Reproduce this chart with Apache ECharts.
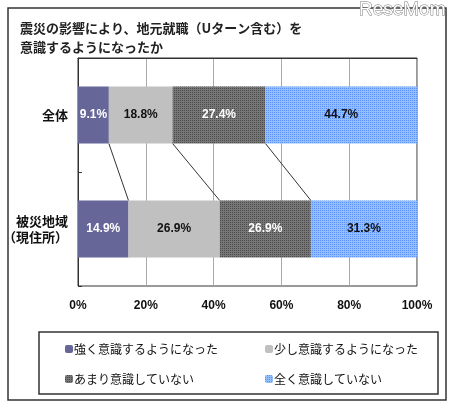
<!DOCTYPE html>
<html lang="ja">
<head>
    <meta charset="UTF-8">
    <title>地元就職の意識</title>
    <script src="https://cdn.jsdelivr.net/npm/echarts@6/dist/echarts.min.js"></script>
    <style>
        html, body { margin: 0; padding: 0; background: #fff; }
        #chart1 { width: 450px; height: 409px; }
    </style>
</head>
<body>
<div id="chart1"></div>
<script type="text/javascript">
    // データ
    var categories = ['全体', '被災地域\n（現住所）'];
    var seriesNames = ['強く意識するようになった', '少し意識するようになった', 'あまり意識していない', '全く意識していない'];
    var strong = [9.1, 14.9];
    var little = [18.8, 26.9];
    var notMuch = [27.4, 26.9];
    var notAtAll = [44.7, 31.3];
    var xTicks = [0, 20, 40, 60, 80, 100];

    var font = '"Noto Sans CJK JP", "Liberation Sans", sans-serif';
    var numFont = '"Liberation Sans", Arial, sans-serif';
    var values = [strong, little, notMuch, notAtAll];
    var colors = ['#666699', '#c0c0c0', '#777777', '#92bffa'];
    var labelColors = ['#fff', '#111', '#fff', '#111'];
    var decals = [null, null,
        { symbol: 'rect', symbolSize: 1, dashArrayX: [1, 1], dashArrayY: [1, 1], color: 'rgba(30,30,30,0.5)' },
        { symbol: 'rect', symbolSize: 1, dashArrayX: [1, 1], dashArrayY: [1, 1], color: 'rgba(40,100,255,0.5)' }];

    var series = [];
    for (var i = 0; i < values.length; i++) {
        series.push({
            name: seriesNames[i],
            type: 'bar',
            stack: 'total',
            barWidth: '50%',
            data: values[i],
            itemStyle: { color: colors[i], decal: decals[i] },
            label: {
                show: true,
                position: 'inside',
                formatter: '{c}%',
                color: labelColors[i],
                fontFamily: numFont,
                fontWeight: 'bold',
                fontSize: 12
            }
        });
    }

    // 区切り線（累積値から）
    var cum = [0, 0];
    for (var k = 0; k < values.length - 1; k++) {
        cum[0] += values[k][0];
        cum[1] += values[k][1];
        series.push({
            type: 'line',
            yAxisIndex: 1,
            symbol: 'none',
            silent: true,
            lineStyle: { color: '#333', width: 1 },
            data: [[cum[0], 0.75], [cum[1], 1.25]],
            z: 1
        });
    }

    var myChart1 = echarts.init(document.getElementById('chart1'));
    myChart1.setOption({
        animation: false,
        textStyle: { fontFamily: font },
        title: {
            text: '震災の影響により、地元就職（Uターン含む）を\n意識するようになったか',
            left: 15,
            top: 14,
            textStyle: { fontSize: 13, fontWeight: 'bold', color: '#222', lineHeight: 19, fontFamily: font }
        },
        legend: [{
            data: [seriesNames[0], seriesNames[2]],
            orient: 'vertical',
            left: 60,
            top: 338,
            itemWidth: 8,
            itemHeight: 8,
            itemGap: 18,
            textStyle: { fontSize: 12, color: '#111', padding: [0, 0, 0, -4] }
        }, {
            data: [seriesNames[1], seriesNames[3]],
            orient: 'vertical',
            left: 260,
            top: 338,
            itemWidth: 8,
            itemHeight: 8,
            itemGap: 18,
            textStyle: { fontSize: 12, color: '#111', padding: [0, 0, 0, -4] }
        }],
        grid: {
            left: 78,
            right: 33,
            top: 58,
            bottom: 123,
            show: true,
            borderColor: '#333',
            borderWidth: 1
        },
        xAxis: {
            type: 'value',
            min: xTicks[0],
            max: xTicks[xTicks.length - 1],
            interval: 20,
            axisLine: { show: true, lineStyle: { color: '#333' } },
            axisTick: { show: false },
            splitLine: { show: true, lineStyle: { color: '#aaa' } },
            axisLabel: {
                margin: 14,
                fontSize: 12,
                color: '#111',
                fontFamily: numFont,
                fontWeight: 'bold',
                formatter: '{value}%'
            }
        },
        yAxis: [{
            type: 'category',
            data: categories,
            inverse: true,
            axisLine: { show: true, lineStyle: { color: '#333' } },
            axisTick: { show: true, inside: true, length: 4, lineStyle: { color: '#333' } },
            axisLabel: { fontSize: 13, color: '#111', margin: 10, lineHeight: 16, fontWeight: 'bold' }
        }, {
            type: 'value',
            min: 0,
            max: 2,
            inverse: true,
            show: false
        }],
        graphic: [{
            type: 'rect',
            shape: { x: 8, y: 8, width: 438, height: 392 },
            style: { fill: 'none', stroke: '#333', lineWidth: 1.5 },
            z: -1
        }, {
            type: 'rect',
            shape: { x: 39, y: 332, width: 399, height: 62 },
            style: { fill: 'none', stroke: '#333', lineWidth: 1.5 },
            z: -1
        }, {
            type: 'text',
            right: 4,
            top: 0,
            style: {
                text: 'ReseMom',
                fill: '#fff',
                stroke: '#777',
                lineWidth: 1,
                font: '19px "Liberation Sans", Arial, sans-serif'
            },
            z: 10
        }],
        series: series
    });
</script>
</body>
</html>
